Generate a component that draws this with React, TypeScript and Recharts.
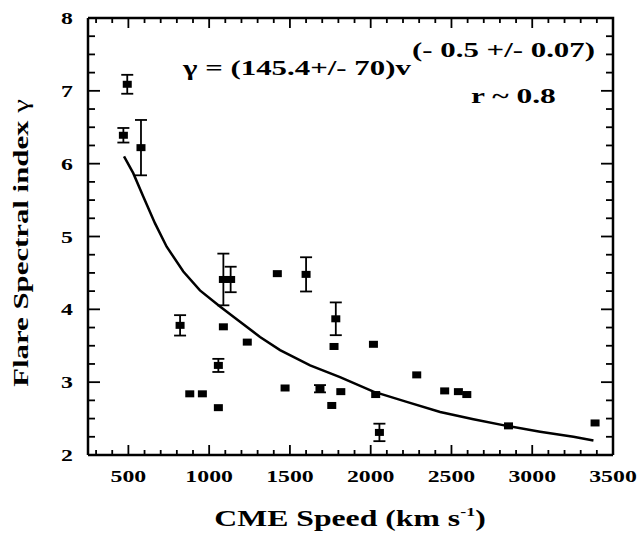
import { ComposedChart, Scatter, ErrorBar, XAxis, YAxis } from "recharts"

// CME speed (km/s) vs flare spectral index, points drawn with error bars
const errSpeed = [493, 469, 578, 820, 1057, 1088, 1133, 1600, 1686, 1784, 2054]
const errGamma = [7.09, 6.39, 6.22, 3.78, 3.23, 4.41, 4.41, 4.48, 2.91, 3.87, 2.31]
const errSize = [0.13, 0.1, 0.38, 0.14, 0.09, 0.355, 0.175, 0.235, 0.05, 0.225, 0.12]

// points without error bars
const plainSpeed = [880, 958, 1057, 1088, 1236, 1422, 1470, 1759, 1773, 1815, 2017, 2031, 2285, 2458, 2543, 2595, 2853, 3389]
const plainGamma = [2.84, 2.84, 2.65, 3.76, 3.55, 4.49, 2.92, 2.68, 3.49, 2.87, 3.52, 2.83, 3.1, 2.88, 2.87, 2.83, 2.4, 2.44]

// fitted power-law curve
const fitSpeed = [473, 530, 592, 665, 737, 840, 943, 1067, 1191, 1315, 1439, 1625, 1810, 2017, 2223, 2430, 2636, 2842, 3049, 3255, 3379]
const fitGamma = [6.1, 5.87, 5.55, 5.18, 4.86, 4.52, 4.26, 4.04, 3.83, 3.62, 3.44, 3.23, 3.07, 2.87, 2.73, 2.59, 2.49, 2.4, 2.32, 2.25, 2.2]

const xDomain = [250, 3500]
const yDomain = [2, 8]
const xMajor = [500, 1000, 1500, 2000, 2500, 3000, 3500]
const yMajor = [2, 3, 4, 5, 6, 7, 8]
const xMinor = [300, 400, 600, 700, 800, 900, 1100, 1200, 1300, 1400, 1600, 1700, 1800, 1900, 2100, 2200, 2300, 2400, 2600, 2700, 2800, 2900, 3100, 3200, 3300, 3400]
const yMinor = [2.25, 2.5, 2.75, 3.25, 3.5, 3.75, 4.25, 4.5, 4.75, 5.25, 5.5, 5.75, 6.25, 6.5, 6.75, 7.25, 7.5, 7.75]

const errData = errSpeed.map((s, i) => ({ speed: s, gamma: errGamma[i], err: errSize[i] }))
const plainData = plainSpeed.map((s, i) => ({ speed: s, gamma: plainGamma[i] }))
const fitData = fitSpeed.map((s, i) => ({ speed: s, gamma: fitGamma[i] }))

// inward tick marks on all four sides of the frame, placed through the chart scales
const onBottom = (vals: number[]) => vals.map((v) => ({ speed: v, gamma: yDomain[0] }))
const onTop = (vals: number[]) => vals.map((v) => ({ speed: v, gamma: yDomain[1] }))
const onLeft = (vals: number[]) => vals.map((v) => ({ speed: xDomain[0], gamma: v }))
const onRight = (vals: number[]) => vals.map((v) => ({ speed: xDomain[1], gamma: v }))
// top and right edges of the box
const frameData = [
  { speed: xDomain[0], gamma: yDomain[1] },
  { speed: xDomain[1], gamma: yDomain[1] },
  { speed: xDomain[1], gamma: yDomain[0] },
]

const FONT = "'Liberation Serif', 'Times New Roman', serif"

const Square = (props: any) => {
  const { cx, cy } = props
  return <rect x={cx - 4.5} y={cy - 3.5} width={9} height={7} fill="#000" />
}

const NoDot = () => <g />

const tickMark = (dx: number, dy: number) => (props: any) => {
  const { cx, cy } = props
  return <line x1={cx} y1={cy} x2={cx + dx} y2={cy + dy} stroke="#000" strokeWidth={1.8} />
}
const UpMajor = tickMark(0, -10)
const UpMinor = tickMark(0, -5)
const DownMajor = tickMark(0, 10)
const DownMinor = tickMark(0, 5)
const RightMajor = tickMark(12, 0)
const RightMinor = tickMark(7, 0)
const LeftMajor = tickMark(-12, 0)
const LeftMinor = tickMark(-7, 0)

const BottomLabel = (props: any) => {
  const { x, y, payload } = props
  return (
    <text
      transform={`translate(${x} ${y + 27}) scale(1.4 1)`}
      textAnchor="middle"
      fontFamily={FONT}
      fontWeight="bold"
      fontSize={17}
      fill="#000"
    >
      {payload.value}
    </text>
  )
}

const LeftLabel = (props: any) => {
  const { x, y, payload } = props
  return (
    <text
      transform={`translate(${x - 15} ${y + 6}) scale(1.4 1)`}
      textAnchor="end"
      fontFamily={FONT}
      fontWeight="bold"
      fontSize={17}
      fill="#000"
    >
      {payload.value}
    </text>
  )
}

const axisLineStyle = { stroke: "#000", strokeWidth: 2.5 }

export default function App() {
  return (
    <div style={{ position: "absolute", left: 0, top: 0, width: 639, height: 536, background: "#fff" }}>
      <ComposedChart width={639} height={536} margin={{ top: 18, right: 26, bottom: 0, left: 0 }}>
        <XAxis
          xAxisId="b"
          type="number"
          dataKey="speed"
          domain={xDomain}
          ticks={xMajor}
          interval={0}
          height={81}
          tickSize={0}
          tickMargin={0}
          tickLine={false}
          tick={(p: any) => <BottomLabel {...p} />}
          axisLine={axisLineStyle}
        />
        <YAxis
          yAxisId="l"
          type="number"
          dataKey="gamma"
          domain={yDomain}
          ticks={yMajor}
          interval={0}
          width={88}
          tickSize={0}
          tickMargin={0}
          tickLine={false}
          tick={(p: any) => <LeftLabel {...p} />}
          axisLine={axisLineStyle}
        />

        <Scatter
          xAxisId="b"
          yAxisId="l"
          data={fitData}
          dataKey="gamma"
          line={{ stroke: "#000", strokeWidth: 2.5 }}
          lineType="joint"
          shape={<NoDot />}
          isAnimationActive={false}
        />
        <Scatter xAxisId="b" yAxisId="l" data={errData} dataKey="gamma" shape={<Square />} isAnimationActive={false}>
          <ErrorBar dataKey="err" direction="y" width={6} stroke="#000" strokeWidth={1.8} isAnimationActive={false} />
        </Scatter>
        <Scatter xAxisId="b" yAxisId="l" data={plainData} dataKey="gamma" shape={<Square />} isAnimationActive={false} />

        {/* frame edges and tick marks, drawn last so nothing paints over them */}
        <Scatter xAxisId="b" yAxisId="l" data={onBottom(xMajor)} dataKey="gamma" shape={<UpMajor />} isAnimationActive={false} />
        <Scatter xAxisId="b" yAxisId="l" data={onBottom(xMinor)} dataKey="gamma" shape={<UpMinor />} isAnimationActive={false} />
        <Scatter xAxisId="b" yAxisId="l" data={onTop(xMajor)} dataKey="gamma" shape={<DownMajor />} isAnimationActive={false} />
        <Scatter xAxisId="b" yAxisId="l" data={onTop(xMinor)} dataKey="gamma" shape={<DownMinor />} isAnimationActive={false} />
        <Scatter xAxisId="b" yAxisId="l" data={onLeft(yMajor)} dataKey="gamma" shape={<RightMajor />} isAnimationActive={false} />
        <Scatter xAxisId="b" yAxisId="l" data={onLeft(yMinor)} dataKey="gamma" shape={<RightMinor />} isAnimationActive={false} />
        <Scatter xAxisId="b" yAxisId="l" data={onRight(yMajor)} dataKey="gamma" shape={<LeftMajor />} isAnimationActive={false} />
        <Scatter xAxisId="b" yAxisId="l" data={onRight(yMinor)} dataKey="gamma" shape={<LeftMinor />} isAnimationActive={false} />
        <Scatter xAxisId="b" yAxisId="l" data={frameData} dataKey="gamma" line={axisLineStyle} lineType="joint"
          shape={<NoDot />} isAnimationActive={false} />
      </ComposedChart>
      <svg
        width={639}
        height={536}
        style={{ position: "absolute", left: 0, top: 0, pointerEvents: "none" }}
        fontFamily={FONT}
        fontWeight="bold"
      >
        <text transform="translate(183 75) scale(1.47 1)" fontSize={21} fill="#000">
          γ = (145.4+/- 70)v
        </text>
        <text transform="translate(412 57) scale(1.47 1)" fontSize={21} fill="#000">
          (- 0.5 +/- 0.07)
        </text>
        <text transform="translate(471 103) scale(1.5 1)" fontSize={21} fill="#000">
          r ~ 0.8
        </text>
        <text transform="translate(350 526) scale(1.38 1)" fontSize={23} textAnchor="middle" fill="#000">
          CME Speed (km s
          <tspan fontSize={13} dy={-10}>
            -1
          </tspan>
          <tspan dy={10}>)</tspan>
        </text>
        <text transform="translate(28 243) rotate(-90) scale(1.4 1)" fontSize={22} textAnchor="middle" fill="#000">
          Flare Spectral index <tspan fontWeight="normal">γ</tspan>
        </text>
      </svg>
    </div>
  )
}
